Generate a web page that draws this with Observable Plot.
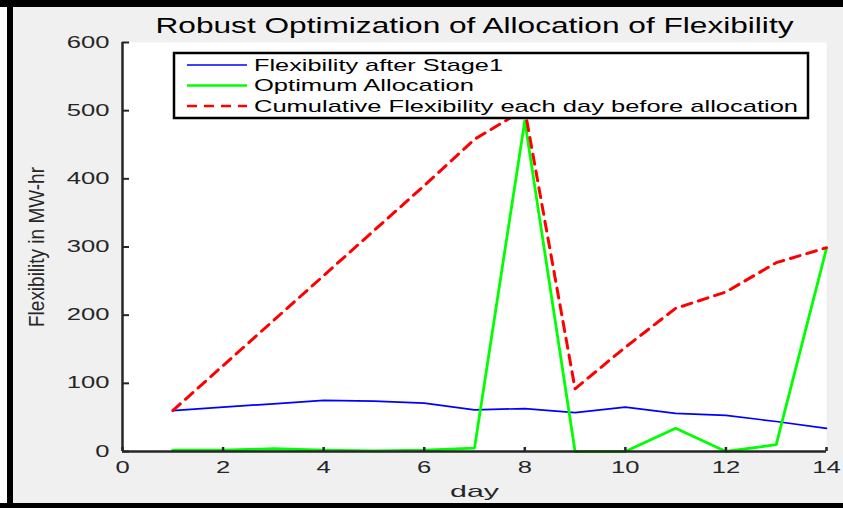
<!DOCTYPE html>
<html>
<head>
<meta charset="utf-8">
<script src="https://cdn.jsdelivr.net/npm/d3@7"></script>
<script src="https://cdn.jsdelivr.net/npm/@observablehq/plot@0.6"></script>
<style>
  html, body { margin: 0; padding: 0; background: #ffffff; }
  #fig { position: relative; width: 843px; height: 508px; background: #f0f0f0; overflow: hidden;
         font-family: Arial, "Liberation Sans", Helvetica, sans-serif; }
  #fig svg { position: absolute; left: 0; top: 0; }
  #strip { position: absolute; left: 0; top: 0; width: 8px; height: 508px; background: #ffffff; }
  #edgeTop { position: absolute; left: 0; top: 0; width: 843px; height: 7px; background: #000; }
  #edgeLeft { position: absolute; left: 7px; top: 0; width: 6px; height: 508px; background: #000; }
  #edgeBottom { position: absolute; left: 0; top: 503px; width: 843px; height: 5px; background: #000; }
</style>
</head>
<body>
<div id="fig">
  <div id="strip"></div>
</div>
<script>
// Daily flexibility figures (MW-hr)
const days = [1, 2, 3, 4, 5, 6, 7, 8, 9, 10, 11, 12, 13, 14];
const stage1 = [60, 65, 70, 75, 74, 71, 61, 63, 57, 65, 56, 53, 44, 34];
const optimum = [2, 2, 4, 2, 1, 2, 5, 485, 0, 0, 34, 0, 10, 298];
const cumulative = [60, 126, 192, 258, 324, 390, 458, 502, 92, 153, 210, 234, 277, 299];

const xTicks = [0, 2, 4, 6, 8, 10, 12, 14];
const yTicks = [0, 100, 200, 300, 400, 500, 600];

const titleText = "Robust Optimization of Allocation of Flexibility";
const xLabel = "day";
const yLabel = "Flexibility in MW-hr";

const seriesNames = [
  "Flexibility after Stage1",
  "Optimum Allocation",
  "Cumulative Flexibility each day before allocation"
];
const seriesColors = ["#0000ff", "#00ff00", "#ff0000"];
const seriesDash = [null, null, "10,7"];
const seriesWidth = [1.7, 2.8, 3];

const table = days.map((d, i) => ({
  day: d, stage1: stage1[i], optimum: optimum[i], cumulative: cumulative[i]
}));

const W = 843, H = 508;
const mL = 122, mR = 17, mT = 42, mB = 57;
const frameW = W - mL - mR, frameH = H - mT - mB;
const ink = "#262626";

const chart = Plot.plot({
  width: W, height: H,
  marginLeft: mL, marginRight: mR, marginTop: mT, marginBottom: mB,
  style: { background: "transparent", fontFamily: "Arial, 'Liberation Sans', sans-serif", color: ink, overflow: "visible" },
  x: { domain: [0, 14] },
  y: { domain: [0, 600] },
  marks: [
    Plot.frame({ fill: "white", stroke: "none" }),
    Plot.axisY({ ticks: yTicks, tickSize: 0, tickPadding: 13, fontSize: 16, label: null, fill: ink }),
    Plot.axisX({ ticks: xTicks, tickSize: 0, tickPadding: 10, fontSize: 16, label: null, fill: ink }),
    Plot.line(table, { x: "day", y: "stage1", stroke: seriesColors[0], strokeWidth: seriesWidth[0] }),
    Plot.line(table, { x: "day", y: "optimum", stroke: seriesColors[1], strokeWidth: seriesWidth[1] }),
    Plot.line(table, { x: "day", y: "cumulative", stroke: seriesColors[2], strokeWidth: seriesWidth[2], strokeDasharray: seriesDash[2] }),
    Plot.ruleX([0], { stroke: ink, strokeWidth: 2.5 }),
    Plot.ruleY([0], { stroke: ink, strokeWidth: 2.5 }),
    // inward tick marks
    Plot.tickX(xTicks, { x: d => d, stroke: ink, strokeWidth: 2.5, insetTop: frameH - 4 }),
    Plot.tickY(yTicks, { y: d => d, stroke: ink, strokeWidth: 2, insetRight: frameW - 7 }),
    Plot.text([titleText], { frameAnchor: "top", lineAnchor: "middle", textAnchor: "middle", dy: -17, fontSize: 22, fill: "#000" }),
    Plot.text([xLabel], { frameAnchor: "bottom", lineAnchor: "middle", textAnchor: "middle", dy: 40, fontSize: 17, fill: ink }),
    Plot.text([yLabel], { frameAnchor: "left", lineAnchor: "middle", textAnchor: "middle", dx: -86, rotate: -90, fontSize: 22, fill: ink })
  ]
});

const fig = document.getElementById("fig");
fig.appendChild(chart);
["edgeTop", "edgeLeft", "edgeBottom"].forEach(id => {
  const d = document.createElement("div"); d.id = id; fig.appendChild(d);
});

// Legend box drawn over the plot area
const svg = d3.select(chart);
const lg = svg.append("g")
  .attr("font-family", "Arial, 'Liberation Sans', sans-serif")
  .attr("text-anchor", "start");
lg.append("rect")
  .attr("x", 174).attr("y", 53).attr("width", 634).attr("height", 65)
  .attr("fill", "white").attr("stroke", "#000").attr("stroke-width", 2.5);
const rowY = [65, 85.5, 106];
const textWidths = [249, 220, 544];
seriesNames.forEach((name, i) => {
  lg.append("line")
    .attr("x1", 187).attr("x2", 247).attr("y1", rowY[i]).attr("y2", rowY[i])
    .attr("stroke", seriesColors[i]).attr("stroke-width", Math.min(seriesWidth[i], 2.5))
    .attr("stroke-dasharray", seriesDash[i]);
  lg.append("text")
    .attr("x", 254).attr("y", rowY[i]).attr("dy", "0.35em")
    .attr("text-anchor", "start")
    .attr("font-size", 17).attr("fill", "#000")
    .attr("textLength", textWidths[i]).attr("lengthAdjust", "spacingAndGlyphs")
    .text(name);
});

// widen the rendered glyphs horizontally
function stretch(nodes, factor) {
  nodes.forEach(t => {
    const w = t.getComputedTextLength();
    t.setAttribute("textLength", w * factor);
    t.setAttribute("lengthAdjust", "spacingAndGlyphs");
  });
}
stretch(chart.querySelectorAll('g[aria-label="y-axis tick label"] text'), 1.6);
stretch(chart.querySelectorAll('g[aria-label="x-axis tick label"] text'), 1.6);
chart.querySelectorAll('g[aria-label="text"] text').forEach(t => {
  if (t.textContent === titleText) { t.setAttribute("textLength", 638); t.setAttribute("lengthAdjust", "spacingAndGlyphs"); }
  if (t.textContent === xLabel) { t.setAttribute("textLength", 49); t.setAttribute("lengthAdjust", "spacingAndGlyphs"); }
  if (t.textContent === yLabel) { t.setAttribute("textLength", 160); t.setAttribute("lengthAdjust", "spacingAndGlyphs"); }
});
</script>
</body>
</html>
